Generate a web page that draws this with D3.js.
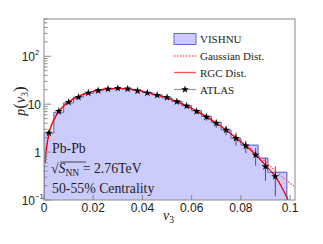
<!DOCTYPE html>
<html><head><meta charset="utf-8">
<script src="https://cdn.jsdelivr.net/npm/d3@7"></script>
<style>body{margin:0;background:#fff}svg{display:block}</style>
</head><body>
<script>
// ---- data ----
const binEdges = [0,0.004,0.008,0.012,0.016,0.020,0.024,0.028,0.032,0.036,0.040,0.044,0.048,0.052,0.056,0.060,0.064,0.068,0.072,0.076,0.080,0.087,0.091,0.0987];
const vishnuValues = [2.5,6.8,10.6,14.0,16.8,19.0,20.6,21.3,20.8,19.4,17.5,15.6,13.5,11.4,9.3,7.3,5.6,4.2,2.9,1.95,1.40,0.75,0.38];
const atlasX = [0.002,0.006,0.010,0.014,0.018,0.022,0.026,0.030,0.034,0.038,0.042,0.046,0.050,0.054,0.058,0.062,0.066,0.070,0.074,0.078,0.082,0.086,0.090,0.094];
const atlasY = [2.5,7.1,11.0,14.0,17.2,19.2,20.8,21.5,20.9,19.0,17.2,15.4,13.8,11.3,9.2,7.1,5.4,4.0,2.9,1.95,1.35,0.87,0.50,0.31];
const atlasErr = [0.15,0.3,0.4,0.45,0.5,0.5,0.6,0.6,0.6,0.6,0.6,0.6,0.6,0.6,0.6,0.7,0.9,0.8,0.64,0.58,0.4,0.35,0.25,0.19];
const rgcX = [0.0004,0.001,0.002,0.004,0.006,0.008,0.010,0.014,0.018,0.022,0.026,0.030,0.034,0.038,0.042,0.046,0.050,0.054,0.058,0.062,0.066,0.070,0.074,0.078,0.082,0.086,0.090,0.094,0.097,0.0992];
const rgcY = [0.6,1.2,2.4,4.7,7.0,9.2,11.2,14.6,17.4,19.5,20.8,21.3,20.9,19.4,17.5,15.4,13.5,11.3,9.2,7.2,5.5,4.0,2.9,1.97,1.35,0.88,0.53,0.31,0.17,0.1];
const gausX = [0.0004,0.001,0.002,0.004,0.006,0.008,0.010,0.014,0.018,0.022,0.026,0.030,0.034,0.038,0.042,0.046,0.050,0.054,0.058,0.062,0.066,0.070,0.074,0.078,0.082,0.086,0.090,0.094,0.098,0.102];
const gausY = [0.6,1.2,2.4,4.7,7.0,9.2,11.2,14.6,17.4,19.5,20.8,21.3,20.9,19.4,17.5,15.4,13.5,11.3,9.2,7.2,5.5,4.05,2.95,2.03,1.42,0.97,0.63,0.41,0.27,0.19];
const xTicks = [0,0.02,0.04,0.06,0.08,0.1];
const xTickLabels = ["0","0.02","0.04","0.06","0.08","0.1"];
const yMajor = [0.1,1,10,100];
const yTickBase = ["10","1","10","10"];
const yTickExp = ["\u22121","","","2"];
const legendLabels = ["VISHNU","Gaussian Dist.","RGC Dist.","ATLAS"];

// ---- layout ----
const W=323,H=244;
const L=44,R=295,T=19,B=200;
const svg=d3.select("body").append("svg").attr("width",W).attr("height",H);
const x=d3.scaleLinear().domain([0,0.102]).range([L,R]);
const y=d3.scaleLog().domain([0.1,600]).range([B,T]);
const fillC="#ccccfc", histC="#5555cc", red="#ee0000", frameC="#8a8a8a";

svg.append("defs").append("clipPath").attr("id","clip").append("rect")
  .attr("x",L).attr("y",T).attr("width",R-L).attr("height",B-T);
const g=svg.append("g").attr("clip-path","url(#clip)");

// histogram
const hist=[];
vishnuValues.forEach((v,i)=>{hist.push([binEdges[i],v]);hist.push([binEdges[i+1],v]);});
const areaPts=[[binEdges[0],0.1]].concat(hist).concat([[binEdges[binEdges.length-1],0.1]]);
g.append("path").datum(areaPts)
  .attr("d",d3.line().x(d=>x(d[0])).y(d=>y(Math.max(d[1],0.1))))
  .attr("fill",fillC).attr("stroke",histC).attr("stroke-width",1);

// ATLAS error bars
atlasX.forEach((xv,i)=>{
  const lo=Math.max(atlasY[i]-atlasErr[i],0.1), hi=atlasY[i]+atlasErr[i];
  g.append("line").attr("x1",x(xv)).attr("x2",x(xv)).attr("y1",y(lo)).attr("y2",y(hi))
   .attr("stroke","#444").attr("stroke-width",0.9);
});

// curves
const line=d3.line().x(d=>x(d[0])).y(d=>y(d[1])).curve(d3.curveMonotoneX);
g.append("path").datum(gausX.map((v,i)=>[v,gausY[i]])).attr("d",line)
  .attr("fill","none").attr("stroke","#ff5555").attr("stroke-width",1.3).attr("stroke-dasharray","1.5,1.5");
g.append("path").datum(rgcX.map((v,i)=>[v,rgcY[i]])).attr("d",line)
  .attr("fill","none").attr("stroke",red).attr("stroke-width",1.3);

// ATLAS stars
const star=d3.symbol().type(d3.symbolStar).size(19);
atlasX.forEach((xv,i)=>{
  g.append("path").attr("d",star).attr("transform",`translate(${x(xv)},${y(atlasY[i])})`).attr("fill","#000");
});

// frame
svg.append("rect").attr("x",L).attr("y",T).attr("width",R-L).attr("height",B-T)
  .attr("fill","none").attr("stroke",frameC).attr("stroke-width",1);

// x ticks
xTicks.forEach((t,i)=>{
  svg.append("line").attr("x1",x(t)).attr("x2",x(t)).attr("y1",B).attr("y2",B-5).attr("stroke",frameC);
  svg.append("text").attr("x",x(t)).attr("y",212).attr("text-anchor","middle")
    .attr("font-family","Liberation Sans, Arial, sans-serif").attr("font-size",12).attr("fill","#222").text(xTickLabels[i]);
});
// y ticks
for(let e=-1;e<3;e++){
  for(let m=1;m<10;m++){
    const v=m*Math.pow(10,e);
    if(v>600) break;
    svg.append("line").attr("x1",L).attr("x2",L+(m===1?7:3.5)).attr("y1",y(v)).attr("y2",y(v)).attr("stroke",frameC);
  }
}
yMajor.forEach((v,i)=>{
  svg.append("text").attr("x",yTickExp[i]?35:41).attr("y",y(v)+4.5).attr("text-anchor","end")
    .attr("font-family","Liberation Sans, Arial, sans-serif").attr("font-size",12).attr("fill","#222").text(yTickBase[i]);
  if(yTickExp[i]) svg.append("text").attr("x",35).attr("y",y(v)-1.5)
    .attr("font-family","Liberation Sans, Arial, sans-serif").attr("font-size",7.5).attr("fill","#222").text(yTickExp[i]);
});

// axis titles
const serif="Liberation Serif, Times New Roman, serif";
const xt=svg.append("text").attr("x",163).attr("y",220).attr("font-family",serif).attr("font-size",14).attr("fill","#222");
xt.append("tspan").attr("font-style","italic").text("v");
xt.append("tspan").attr("font-size",9.5).attr("dy",3).text("3");
const yt=svg.append("text").attr("transform","translate(25,101) rotate(-90)").attr("text-anchor","middle")
  .attr("font-family",serif).attr("font-size",14).attr("fill","#222");
yt.append("tspan").attr("font-style","italic").text("p");
yt.append("tspan").attr("font-size",17).attr("dy",0).text("(");
yt.append("tspan").attr("font-style","italic").text("v");
yt.append("tspan").attr("font-size",9.5).attr("dy",3).text("3");
yt.append("tspan").attr("font-size",17).attr("dy",-3).text(")");

// annotations
const fs=13.8;
svg.append("text").attr("x",52).attr("y",153).attr("font-family",serif).attr("font-size",fs).attr("fill","#222").text("Pb-Pb");
const s=svg.append("text").attr("x",51).attr("y",173).attr("font-family",serif).attr("font-size",fs).attr("fill","#222");
s.append("tspan").text("\u221A");
s.append("tspan").attr("font-style","italic").text("S");
s.append("tspan").attr("font-size",9.5).attr("dy",3).text("NN");
s.append("tspan").attr("dy",-3).text(" = 2.76TeV");
svg.append("line").attr("x1",60).attr("x2",86).attr("y1",162).attr("y2",162).attr("stroke","#222").attr("stroke-width",0.8);
svg.append("text").attr("x",52).attr("y",193).attr("font-family",serif).attr("font-size",fs).attr("fill","#222").text("50-55% Centrality");

// legend
const lx0=174,lx1=196,ltx=200,lys=[39,56,72.5,89.5];
svg.append("rect").attr("x",lx0).attr("y",lys[0]-5.5).attr("width",lx1-lx0).attr("height",11)
  .attr("fill",fillC).attr("stroke","#6666dd").attr("stroke-width",1);
svg.append("line").attr("x1",lx0).attr("x2",lx1).attr("y1",lys[1]).attr("y2",lys[1])
  .attr("stroke","#ff5555").attr("stroke-width",1.3).attr("stroke-dasharray","1.5,1.5");
svg.append("line").attr("x1",lx0).attr("x2",lx1).attr("y1",lys[2]).attr("y2",lys[2])
  .attr("stroke","#ff5555").attr("stroke-width",1.3);
svg.append("line").attr("x1",lx0).attr("x2",lx1).attr("y1",lys[3]).attr("y2",lys[3])
  .attr("stroke","#999").attr("stroke-width",1.3);
svg.append("path").attr("d",star).attr("transform",`translate(${(lx0+lx1)/2},${lys[3]})`).attr("fill","#000");
legendLabels.forEach((l,i)=>{
  svg.append("text").attr("x",ltx).attr("y",lys[i]+4).attr("font-family",serif).attr("font-size",11).attr("fill","#222").text(l);
});
</script>
</body></html>
